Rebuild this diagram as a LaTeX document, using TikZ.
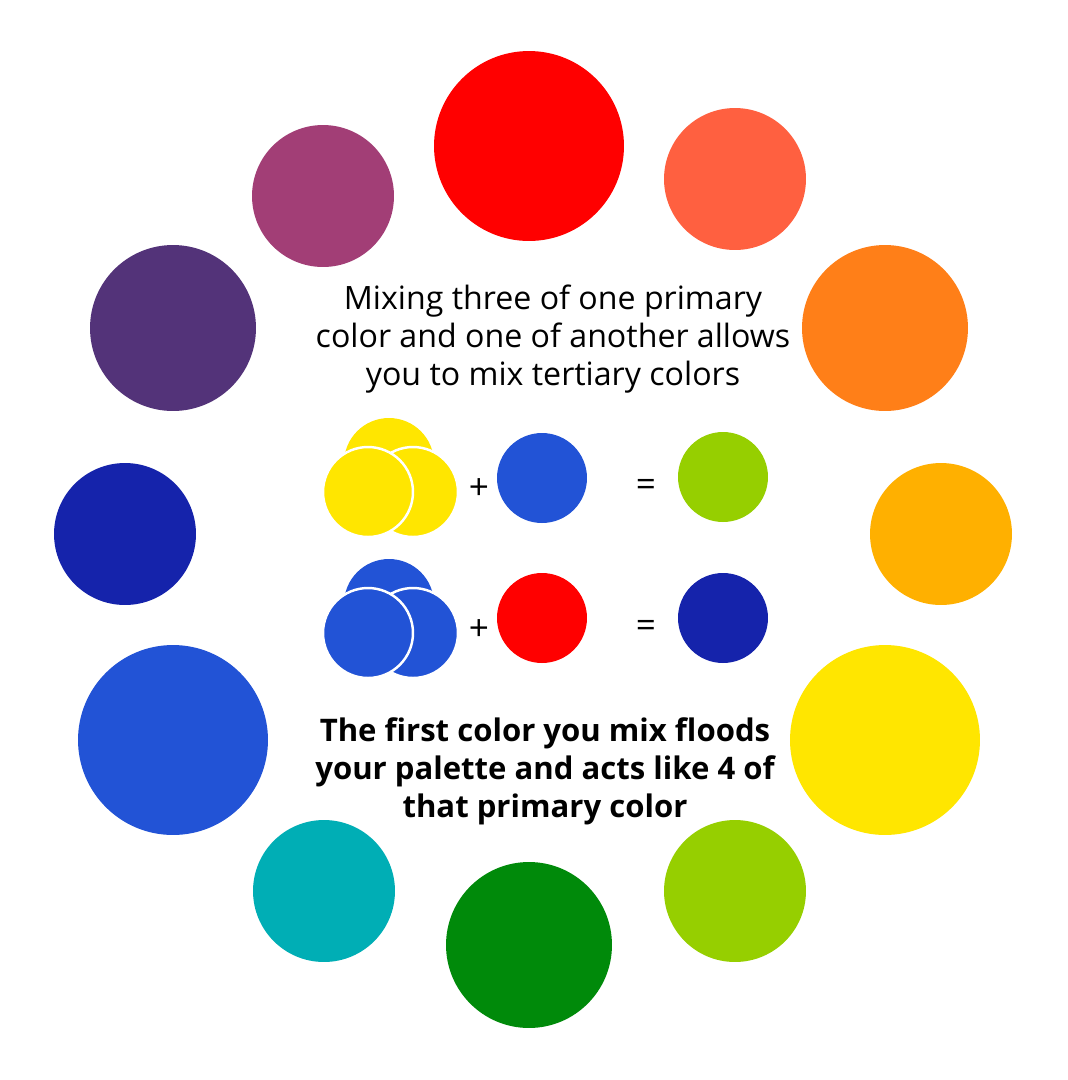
\documentclass[tikz,border=0pt]{standalone}
\usepackage{fontspec}
\setmainfont{Open Sans}
\usepackage{xcolor}
\usetikzlibrary{positioning}

\definecolor{cred}{HTML}{FF0000}
\definecolor{ccoral}{HTML}{FF6040}
\definecolor{corange}{HTML}{FF7F18}
\definecolor{camber}{HTML}{FFB000}
\definecolor{cyellow}{HTML}{FFE600}
\definecolor{clime}{HTML}{96CF00}
\definecolor{cgreen}{HTML}{008A0A}
\definecolor{cteal}{HTML}{00AEB5}
\definecolor{cblue}{HTML}{2253D6}
\definecolor{cnavy}{HTML}{1523AB}
\definecolor{cpurple}{HTML}{533379}
\definecolor{cmagenta}{HTML}{A23E76}

\begin{document}
\begin{tikzpicture}[x=0.02cm,y=-0.02cm,
  dot/.style={circle,inner sep=0pt,minimum size=#1},
  big/.style={dot=3.8cm},
  mid/.style={dot=3.32cm},
  sml/.style={dot=2.84cm},
  mix/.style={dot=1.8cm},
  ring/.style={mix,draw=white,line width=1.4pt},
  sign/.style={font=\fontsize{20}{22}\selectfont},
  note/.style={align=center,font=\fontsize{18.3}{21.6}\selectfont},
  bnote/.style={align=center,font=\fontsize{17.7}{21.6}\selectfont\bfseries}
]
\useasboundingbox[fill=white] (0,0) rectangle (1068,1080);

% outer wheel
\node[big,fill=cred]     (red)     at (529,146) {};
\node[sml,fill=ccoral]   (coral)   at (735,179) {};
\node[mid,fill=corange]  (orange)  at (885,328) {};
\node[sml,fill=camber]   (amber)   at (941,534) {};
\node[big,fill=cyellow]  (yellow)  at (885,740) {};
\node[sml,fill=clime]    (lime)    at (735,891) {};
\node[mid,fill=cgreen]   (green)   at (529,945) {};
\node[sml,fill=cteal]    (teal)    at (324,891) {};
\node[big,fill=cblue]    (blue)    at (173,740) {};
\node[sml,fill=cnavy]    (navy)    at (125,534) {};
\node[mid,fill=cpurple]  (purple)  at (173,328) {};
\node[sml,fill=cmagenta] (magenta) at (323,196) {};

% top text
\node[note] (intro) at (553,339)
  {Mixing three of one primary\\color and one of another allows\\you to mix tertiary colors};

% first row: three yellow + blue = lime
\node[mix,fill=cyellow]  (ytop)   at (389,463) {};
\node[ring,fill=cyellow] (yright) at (413,492) {};
\node[ring,fill=cyellow] (yleft)  at (368,492) {};
\node[sign] (plusa) at (479,489) {+};
\node[mix,fill=cblue]    (addblue) at (542,478) {};
\node[sign] (eqa) at (646,488) {=};
\node[mix,fill=clime]    (reslime) at (723,477) {};

% second row: three blue + red = navy
\node[mix,fill=cblue]  (btop)   at (389,604) {};
\node[ring,fill=cblue] (bright) at (413,633) {};
\node[ring,fill=cblue] (bleft)  at (368,633) {};
\node[sign] (plusb) at (479,630) {+};
\node[mix,fill=cred]   (addred) at (542,618) {};
\node[sign] (eqb) at (646,629) {=};
\node[mix,fill=cnavy]  (resnavy) at (723,618) {};

% bottom text
\node[bnote] (flood) at (545,771)
  {The first color you mix floods\\your palette and acts like 4 of\\that primary color};
\end{tikzpicture}
\end{document}
